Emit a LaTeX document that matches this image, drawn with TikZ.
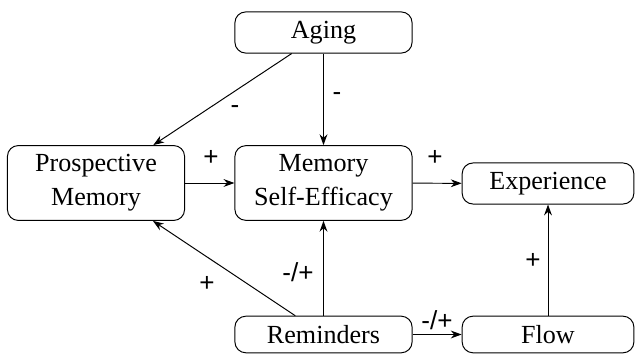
\documentclass[tikz,border=0pt]{standalone}
\usepackage{fontspec}
\newfontfamily\tms{Liberation Serif}
\newfontfamily\lsans{Liberation Sans}
\usetikzlibrary{arrows.meta}
\begin{document}
\begin{tikzpicture}[x=0.46pt,y=-0.46pt]
\tikzset{box/.style={draw,rounded corners=5pt,align=center,inner sep=4.2pt,line width=0.45pt},
  arr/.style={-{Stealth[length=5pt,width=3.6pt]},line width=0.45pt}}
\useasboundingbox (0,0) rectangle (635,354);
\node[box,minimum width=81.5pt,font=\tms\fontsize{12}{15.5}\selectfont] (aging) at (323.5,32.5) {Aging};
\node[box,minimum width=81.5pt,font=\tms\fontsize{12}{15.5}\selectfont] (pm) at (96,183) {Prospective\\Memory};
\node[box,minimum width=81.5pt,font=\tms\fontsize{12}{15.5}\selectfont] (mse) at (323.5,183) {Memory\\Self-Efficacy};
\node[box,minimum width=79pt,font=\tms\fontsize{12}{15.5}\selectfont] (exp) at (548,183.5) {Experience};
\node[box,minimum width=81.5pt,font=\tms\fontsize{12}{15.5}\selectfont] (rem) at (323.5,334.5) {Reminders};
\node[box,minimum width=79pt,font=\tms\fontsize{12}{15.5}\selectfont] (flow) at (548,334.5) {Flow};
\draw[arr] (aging) -- (pm);
\draw[arr] (aging) -- (mse);
\draw[arr] (pm) -- (mse);
\draw[arr] (mse) -- (exp);
\draw[arr] (rem) -- (pm);
\draw[arr] (rem) -- (mse);
\draw[arr] (rem) -- (flow);
\draw[arr] (flow) -- (exp);
\node[font=\lsans\fontsize{12}{14}\selectfont,inner sep=0pt] (l1) at (235,110) {-};
\node[font=\lsans\fontsize{12}{14}\selectfont,inner sep=0pt] (l2) at (337,97) {-};
\node[font=\lsans\fontsize{12}{14}\selectfont,inner sep=0pt] (l3) at (211,158) {+};
\node[font=\lsans\fontsize{12}{14}\selectfont,inner sep=0pt] (l4) at (435,158) {+};
\node[font=\lsans\fontsize{12}{14}\selectfont,inner sep=0pt] (l5) at (207,284) {+};
\node[font=\lsans\fontsize{12}{14}\selectfont,inner sep=0pt] (l6) at (298,272) {-/+};
\node[font=\lsans\fontsize{12}{14}\selectfont,inner sep=0pt] (l7) at (437,320) {-/+};
\node[font=\lsans\fontsize{12}{14}\selectfont,inner sep=0pt] (l8) at (533,261) {+};
\end{tikzpicture}
\end{document}
